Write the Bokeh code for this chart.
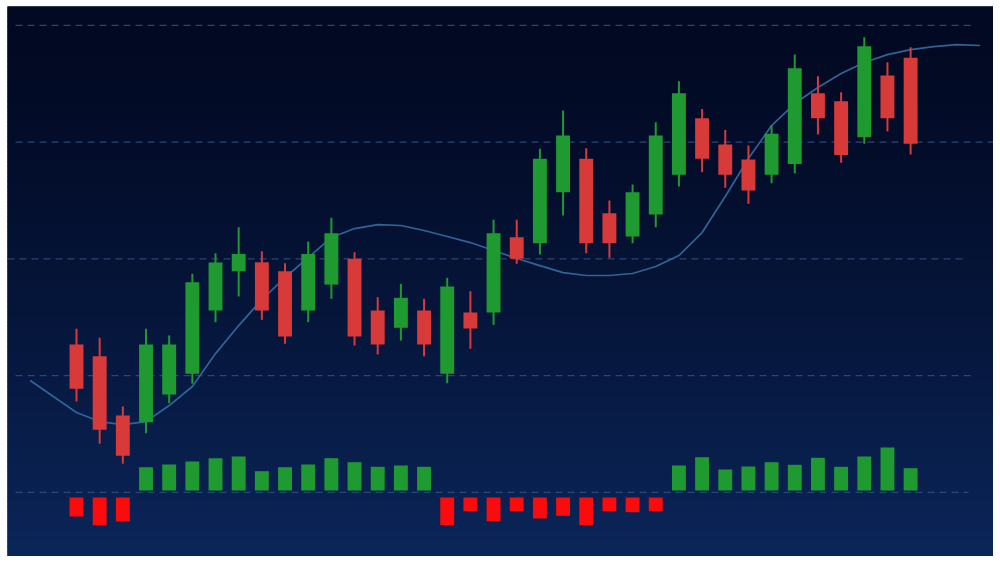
import numpy as np
from bokeh.plotting import figure
from bokeh.models import Range1d
from bokeh.embed import file_html
from bokeh.resources import INLINE

# ---------------- data ----------------
opens = [102.66, 101.65, 96.57, 96.00, 98.37, 100.15, 105.57, 108.93, 109.70, 108.93,
         105.57, 107.79, 110.00, 105.57, 104.09, 105.57, 100.15, 105.40, 105.40, 111.85,
         111.33, 115.70, 118.56, 113.90, 111.91, 113.79, 117.19, 122.04, 119.78, 118.50,
         117.19, 118.13, 124.18, 123.49, 120.41, 125.70, 127.21]
closes = [98.86, 95.35, 93.12, 102.66, 102.66, 107.99, 109.68, 110.42, 105.57, 103.34,
          110.42, 112.19, 103.34, 102.66, 106.66, 102.66, 107.62, 104.03, 112.19, 110.00,
          118.56, 120.56, 111.33, 111.33, 115.70, 120.56, 124.18, 118.56, 117.19, 115.85,
          120.70, 126.32, 122.04, 118.90, 128.20, 122.04, 119.85]
highs = [104.00, 103.23, 97.34, 104.00, 103.43, 108.71, 110.47, 112.70, 110.65, 109.62,
         111.48, 113.51, 110.56, 106.71, 107.85, 106.57, 108.37, 107.22, 113.34, 113.34,
         119.42, 122.70, 119.47, 114.99, 116.36, 121.69, 125.21, 122.84, 121.04, 119.70,
         121.41, 127.49, 125.63, 124.26, 128.98, 126.83, 128.12]
lows = [97.77, 94.15, 92.44, 95.06, 97.63, 99.29, 104.57, 106.77, 104.77, 102.72,
        104.57, 106.57, 102.57, 101.80, 103.00, 101.65, 99.34, 102.29, 104.34, 109.57,
        110.36, 113.70, 110.47, 110.08, 111.33, 112.70, 116.19, 117.41, 116.08, 114.71,
        116.47, 117.33, 120.64, 118.22, 119.85, 120.90, 118.93]

# histogram (momentum) values, one per candle
hist = [-2.30, -3.17, -2.80, 2.63, 2.90, 3.20, 3.53, 3.70, 2.23, 2.63,
        2.90, 3.53, 3.13, 2.67, 2.80, 2.67, -3.17, -1.77, -2.77, -1.77,
        -2.50, -2.23, -3.17, -1.77, -1.87, -1.77, 2.80, 3.63, 2.40, 2.70,
        3.13, 2.87, 3.57, 2.67, 3.70, 4.60, 2.53]

# smooth moving-average curve
ma_x = [-2, -1, 0, 1, 2, 3, 4, 5, 6, 7, 8, 9, 10, 11, 12, 13, 14, 15, 16, 17, 18, 19,
        20, 21, 22, 23, 24, 25, 26, 27, 28, 29, 30, 31, 32, 33, 34, 35, 36, 37, 38, 39]
ma_y = [99.57, 98.20, 96.83, 96.06, 95.80, 96.06, 97.43, 99.06, 101.88, 104.28,
        106.51, 108.39, 110.11, 111.82, 112.59, 112.93, 112.85, 112.42, 111.91, 111.39,
        110.71, 110.02, 109.42, 108.82, 108.57, 108.57, 108.74, 109.34, 110.28, 112.25,
        115.33, 118.59, 121.41, 123.30, 124.67, 125.87, 126.81, 127.49, 127.92, 128.18,
        128.35, 128.27]

# horizontal price levels
levels = [130, 120, 110, 100, 90]

# ---------------- figure ----------------
n = len(opens)
idx = list(range(n))
X0, X1 = -2.978, 39.577
Y0, Y1 = 84.50, 131.61

p = figure(width=993, height=556, x_range=Range1d(X0, X1), y_range=Range1d(Y0, Y1),
           output_backend="svg", toolbar_location=None,
           x_axis_location=None, y_axis_location=None,
           min_border_left=7, min_border_top=6, min_border_right=0, min_border_bottom=0,
           background_fill_color="#061640", border_fill_color="white",
           outline_line_color=None)
p.grid.visible = False
p.extra_y_ranges = {"hist": Range1d(-6.3, 48.7)}

# vertical gradient background
strips = 110
edges = np.linspace(Y1, Y0, strips + 1)
c_top = np.array([2, 9, 34])
c_bot = np.array([11, 38, 90])
cols = []
for i in range(strips):
    t = ((i + 0.5) / strips) ** 1.4
    c = (c_top + (c_bot - c_top) * t).astype(int)
    cols.append("#%02x%02x%02x" % tuple(c))
p.quad(left=X0, right=X1, top=edges[:-1], bottom=edges[1:],
       fill_color=cols, line_color=cols, line_width=1)

# dashed grid lines
gx0 = [-2.63, -2.63, X0, -2.63, -2.63]
gx1 = [38.67, X1, 38.37, 38.67, 38.5]
p.segment(x0=gx0, y0=levels, x1=gx1, y1=levels, line_color="#2b4674",
          line_width=1.2, line_dash="7 5")

# moving average line
p.line(ma_x, ma_y, line_color="#2f6498", line_width=1.7)

# candles
GREEN = "#1f9a31"
RED = "#d83a3a"
ccol = [GREEN if c >= o else RED for o, c in zip(opens, closes)]
tops = [max(o, c) for o, c in zip(opens, closes)]
bots = [min(o, c) for o, c in zip(opens, closes)]
p.segment(x0=idx, y0=lows, x1=idx, y1=highs, line_color=ccol, line_width=2)
p.vbar(x=idx, width=0.6, top=tops, bottom=bots, fill_color=ccol, line_color=None)

# histogram
gi = [i for i, v in enumerate(hist) if v > 0]
ri = [i for i, v in enumerate(hist) if v < 0]
p.vbar(x=gi, width=0.6, top=[hist[i] for i in gi], bottom=0.3,
       fill_color="#1f9a31", line_color=None, y_range_name="hist")
p.vbar(x=ri, width=0.6, top=-0.4, bottom=[hist[i] for i in ri],
       fill_color="#fb0b0b", line_color=None, y_range_name="hist")

open("out.html", "w").write(file_html(p, INLINE))
